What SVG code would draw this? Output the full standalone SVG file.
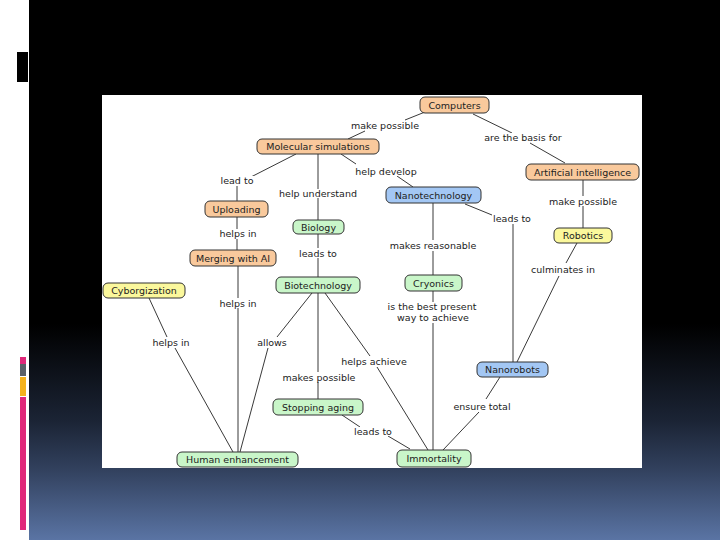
<svg xmlns="http://www.w3.org/2000/svg" width="720" height="540" viewBox="0 0 720 540">
<defs>
<linearGradient id="bg" x1="0" y1="0" x2="0" y2="540" gradientUnits="userSpaceOnUse">
<stop offset="0" stop-color="#000"/>
<stop offset="0.6" stop-color="#000"/>
<stop offset="0.78" stop-color="#1b2435"/>
<stop offset="0.87" stop-color="#32415e"/>
<stop offset="1" stop-color="#5a74a4"/>
</linearGradient>
<style>
.n rect{stroke:#333;stroke-width:1}
.or rect{fill:#f9c99c}
.gr rect{fill:#c9f6c9}
.bl rect{fill:#a3c7f4}
.ye rect{fill:#fbf89c}
text{font-family:"DejaVu Sans","Verdana",sans-serif;font-size:9.5px;fill:#222;text-anchor:middle}
.c line{stroke:#222;stroke-width:0.9}
</style>
</defs>
<rect x="0" y="0" width="720" height="540" fill="#fff"/>
<rect x="29" y="0" width="691" height="540" fill="url(#bg)"/>
<rect x="17" y="52" width="11" height="30" fill="#000"/>
<rect x="20" y="357" width="6" height="7" fill="#e0287a"/>
<rect x="20" y="364" width="6" height="12" fill="#5a6068"/>
<rect x="20" y="377" width="6" height="19" fill="#f4b21c"/>
<rect x="20" y="397" width="6" height="133" fill="#e0287a"/>
<rect x="102" y="95" width="540" height="373" fill="#fff"/>

<g class="c" id="connectors">
<line x1="425" y1="112" x2="405" y2="120"/>
<line x1="365" y1="131" x2="348" y2="139"/>
<line x1="473" y1="114" x2="512" y2="133"/>
<line x1="530" y1="143" x2="565" y2="163"/>
<line x1="296" y1="154" x2="249" y2="178"/>
<line x1="237" y1="186" x2="237" y2="201"/>
<line x1="318" y1="154" x2="318" y2="189"/>
<line x1="318" y1="198" x2="318" y2="220"/>
<line x1="341" y1="154" x2="356" y2="164"/>
<line x1="397" y1="176" x2="413" y2="187"/>
<line x1="583" y1="180" x2="583" y2="196"/>
<line x1="583" y1="206" x2="583" y2="228"/>
<line x1="465" y1="204" x2="492" y2="215"/>
<line x1="513" y1="224" x2="513" y2="362"/>
<line x1="433" y1="203" x2="433" y2="240"/>
<line x1="433" y1="251" x2="433" y2="275"/>
<line x1="237" y1="217" x2="237" y2="229"/>
<line x1="237" y1="239" x2="237" y2="250"/>
<line x1="318" y1="234" x2="318" y2="248"/>
<line x1="318" y1="258" x2="318" y2="277"/>
<line x1="577" y1="243" x2="566" y2="263"/>
<line x1="559" y1="276" x2="517" y2="362"/>
<line x1="238" y1="266" x2="238" y2="298"/>
<line x1="238" y1="308" x2="238" y2="452"/>
<line x1="149" y1="298" x2="167" y2="337"/>
<line x1="175" y1="348" x2="233" y2="452"/>
<line x1="312" y1="293" x2="277" y2="337"/>
<line x1="268" y1="348" x2="240" y2="452"/>
<line x1="318" y1="293" x2="318" y2="372"/>
<line x1="318" y1="382" x2="318" y2="399"/>
<line x1="325" y1="293" x2="370" y2="356"/>
<line x1="377" y1="367" x2="428" y2="450"/>
<line x1="342" y1="415" x2="360" y2="427"/>
<line x1="388" y1="436" x2="410" y2="449"/>
<line x1="433" y1="291" x2="433" y2="302"/>
<line x1="433" y1="323" x2="433" y2="450"/>
<line x1="500" y1="377" x2="486" y2="399"/>
<line x1="479" y1="412" x2="443" y2="450"/>
</g>

<g fill="#fff">
<rect x="352" y="121" width="66" height="9"/>
<rect x="481" y="133" width="83" height="9"/>
<rect x="355" y="167" width="63" height="9"/>
<rect x="220" y="176" width="34" height="9"/>
<rect x="277" y="189" width="81" height="9"/>
<rect x="492" y="214" width="41" height="9"/>
<rect x="547" y="197" width="72" height="9"/>
<rect x="219" y="229" width="38" height="9"/>
<rect x="387" y="241" width="92" height="9"/>
<rect x="298" y="249" width="40" height="9"/>
<rect x="530" y="265" width="67" height="9"/>
<rect x="218" y="299" width="40" height="9"/>
<rect x="385" y="302" width="96" height="21"/>
<rect x="153" y="338" width="36" height="9"/>
<rect x="257" y="338" width="31" height="9"/>
<rect x="340" y="357" width="69" height="9"/>
<rect x="281" y="373" width="77" height="9"/>
<rect x="452" y="402" width="61" height="9"/>
<rect x="353" y="427" width="41" height="9"/>
</g>

<g id="labels">
<text x="385" y="129">make possible</text>
<text x="523" y="141">are the basis for</text>
<text x="386" y="175">help develop</text>
<text x="237" y="184">lead to</text>
<text x="318" y="197">help understand</text>
<text x="512" y="222">leads to</text>
<text x="583" y="205">make possible</text>
<text x="238" y="237">helps in</text>
<text x="433" y="249">makes reasonable</text>
<text x="318" y="257">leads to</text>
<text x="563" y="273">culminates in</text>
<text x="238" y="307">helps in</text>
<text x="432" y="310">is the best present</text>
<text x="433" y="321">way to achieve</text>
<text x="171" y="346">helps in</text>
<text x="272" y="346">allows</text>
<text x="374" y="365">helps achieve</text>
<text x="319" y="381">makes possible</text>
<text x="482" y="410">ensure total</text>
<text x="373" y="435">leads to</text>
</g>

<g id="computers" class="n or"><rect x="420" y="97" width="69" height="16" rx="5"/><text x="454.5" y="108.5">Computers</text></g>
<g id="molecular" class="n or"><rect x="257" y="139" width="122" height="15" rx="5"/><text x="318" y="150">Molecular simulations</text></g>
<g id="ai" class="n or"><rect x="526" y="164" width="113" height="16" rx="5"/><text x="582.5" y="175.5">Artificial intelligence</text></g>
<g id="uploading" class="n or"><rect x="205" y="201" width="63" height="16" rx="5"/><text x="236.5" y="212.5">Uploading</text></g>
<g id="nanotech" class="n bl"><rect x="386" y="187" width="95" height="16" rx="5"/><text x="433.5" y="198.5">Nanotechnology</text></g>
<g id="biology" class="n gr"><rect x="293" y="220" width="51" height="14" rx="5"/><text x="318.5" y="230.5">Biology</text></g>
<g id="robotics" class="n ye"><rect x="554" y="228" width="58" height="15" rx="5"/><text x="583" y="239">Robotics</text></g>
<g id="merging" class="n or"><rect x="190" y="250" width="86" height="16" rx="5"/><text x="233" y="261.5">Merging with AI</text></g>
<g id="cyborg" class="n ye"><rect x="103" y="283" width="82" height="15" rx="5"/><text x="144" y="294">Cyborgization</text></g>
<g id="biotech" class="n gr"><rect x="276" y="277" width="84" height="16" rx="5"/><text x="318" y="288.5">Biotechnology</text></g>
<g id="cryonics" class="n gr"><rect x="405" y="275" width="57" height="16" rx="5"/><text x="433.5" y="286.5">Cryonics</text></g>
<g id="nanorobots" class="n bl"><rect x="477" y="362" width="71" height="15" rx="5"/><text x="512.5" y="373">Nanorobots</text></g>
<g id="stopping" class="n gr"><rect x="273" y="399" width="90" height="16" rx="5"/><text x="318" y="410.5">Stopping aging</text></g>
<g id="human" class="n gr"><rect x="177" y="452" width="121" height="15" rx="5"/><text x="237.5" y="463">Human enhancement</text></g>
<g id="immortality" class="n gr"><rect x="397" y="450" width="74" height="17" rx="5"/><text x="434" y="462">Immortality</text></g>
</svg>
